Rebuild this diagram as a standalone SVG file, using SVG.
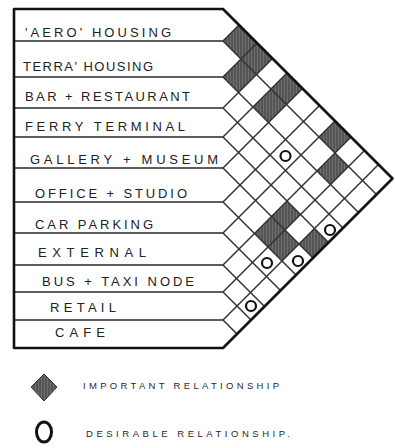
<svg xmlns="http://www.w3.org/2000/svg" width="395" height="448" viewBox="0 0 395 448">
<defs>
<pattern id="hatch" width="3" height="6" patternUnits="userSpaceOnUse">
<rect width="3" height="6" fill="#6e6e6e"/>
<line x1="1" y1="0" x2="1" y2="6" stroke="#444" stroke-width="1.2"/>
</pattern>
</defs>
<style>
.bg{fill:#ffffff}
.lbl{font-family:"Liberation Sans",Arial,sans-serif;font-size:13px;fill:#222}
.leg{font-family:"Liberation Sans",Arial,sans-serif;font-size:9.5px;fill:#2a2a2a}
.rowline{stroke:#2a2a2a;stroke-width:1.6;fill:none}
.grid{stroke:#333;stroke-width:1.5;fill:none}
.outer{stroke:#111;stroke-width:2.6;fill:none;stroke-linejoin:round}
.imp{fill:url(#hatch);stroke:#333;stroke-width:1}
.des{fill:none;stroke:#111;stroke-width:2.2}
</style>
<rect class="bg" x="0" y="0" width="395" height="448"/>

<g id="cells">
<polygon class="imp" points="239,25 257,43 241,59 223,41"/>
<polygon class="imp" points="257,43 272.5,58.5 256.5,74.5 241,59"/>
<polygon class="imp" points="241,59 256.5,74.5 238.5,92.5 223,77"/>
<polygon class="imp" points="287,73 302.5,88.5 286.5,104.5 271,89"/>
<polygon class="imp" points="271,89 286.5,104.5 268.5,122.5 253,107"/>
<polygon class="imp" points="335,121 351,137 335,153 319,137"/>
<polygon class="imp" points="335,153 348.5,166.5 330.5,184.5 317,171"/>
<polygon class="imp" points="287,201 300.5,214.5 285,230 271.5,216.5"/>
<polygon class="imp" points="271.5,216.5 285,230 268,247 254.5,233.5"/>
<polygon class="imp" points="285,230 299,244 282,261 268,247"/>
<polygon class="imp" points="314.5,228.5 328.5,242.5 313,258 299,244"/>
</g>

<g id="connectors">
<path class="rowline" d="M14,41H223M14,77H223M14,108H223M14,137H223M14,168H223M14,202H223M14,233H223M14,265H223M14,292H223M14,320H223"/>
<path class="grid" d="M223,41L376.5,194.5M223,77L358.5,212.5M223,108L343,228M223,137L328.5,242.5M223,168L313,258M223,202L296,275M223,233L280.5,290.5M223,265L264.5,306.5M223,292L251,320M223,320L237,334"/>
<path class="grid" d="M223,41L239,25M223,77L257,43M223,108L272.5,58.5M223,137L287,73M223,168L302.5,88.5M223,202L319.5,105.5M223,233L335,121M223,265L351,137M223,292L364.5,150.5M223,320L378.5,164.5"/>
<path class="outer" d="M14,9H223L392.5,178.5L223,348H14Z"/>
</g>

<g id="desirable">
<circle class="des" cx="285.5" cy="156" r="5"/>
<circle class="des" cx="330" cy="230" r="5"/>
<circle class="des" cx="298" cy="261" r="5"/>
<circle class="des" cx="267" cy="263" r="5"/>
<circle class="des" cx="251" cy="306" r="5"/>
</g>

<g id="row-aero-housing"><text class="lbl" x="25" y="37" textLength="146">'AERO' HOUSING</text></g>
<g id="row-terra-housing"><text class="lbl" x="23" y="71" textLength="130">TERRA' HOUSING</text></g>
<g id="row-bar-restaurant"><text class="lbl" x="25" y="101" textLength="165">BAR + RESTAURANT</text></g>
<g id="row-ferry-terminal"><text class="lbl" x="25" y="131" textLength="160">FERRY TERMINAL</text></g>
<g id="row-gallery-museum"><text class="lbl" x="30" y="164" textLength="188">GALLERY + MUSEUM</text></g>
<g id="row-office-studio"><text class="lbl" x="35" y="198" textLength="152">OFFICE + STUDIO</text></g>
<g id="row-car-parking"><text class="lbl" x="35" y="229" textLength="118">CAR PARKING</text></g>
<g id="row-external"><text class="lbl" x="38" y="257" textLength="108">EXTERNAL</text></g>
<g id="row-bus-taxi-node"><text class="lbl" x="42" y="286" textLength="152">BUS + TAXI NODE</text></g>
<g id="row-retail"><text class="lbl" x="50" y="312" textLength="66">RETAIL</text></g>
<g id="row-cafe"><text class="lbl" x="55" y="337" textLength="50">CAFE</text></g>

<g id="legend">
<polygon class="imp" points="44,374 57,387 44,401 31,387"/>
<text class="leg" x="83" y="389" textLength="196">IMPORTANT RELATIONSHIP</text>
<ellipse cx="44" cy="432" rx="7.5" ry="10" fill="none" stroke="#111" stroke-width="3"/>
<text class="leg" x="86" y="437" textLength="204">DESIRABLE RELATIONSHIP.</text>
</g>
</svg>
